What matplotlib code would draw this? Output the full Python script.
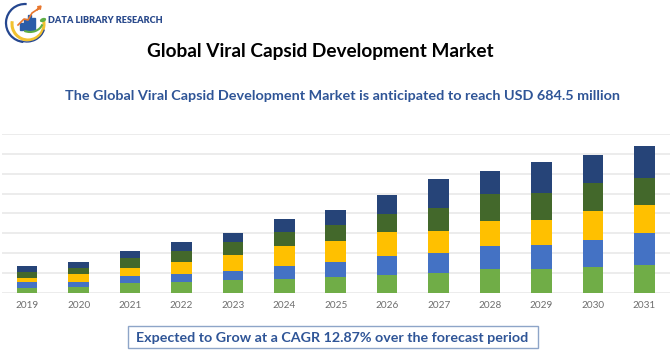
import matplotlib
matplotlib.use('Agg')
import matplotlib.pyplot as plt
from matplotlib.patches import Arc, Rectangle, Ellipse, FancyArrow

W, H = 670, 350

years = ['2019', '2020', '2021', '2022', '2023', '2024', '2025',
         '2026', '2027', '2028', '2029', '2030', '2031']
seg1 = [2.4, 2.9, 4.9, 5.5, 6.4, 6.7, 7.9, 8.7, 9.9, 11.8, 11.9, 12.8, 13.9]
seg2 = [3.0, 2.7, 3.5, 4.0, 4.4, 6.9, 7.7, 9.6, 9.9, 11.8, 12.1, 13.9, 16.0]
seg3 = [2.0, 4.0, 4.2, 6.2, 8.1, 9.9, 10.3, 12.3, 11.3, 12.3, 12.6, 14.3, 14.3]
seg4 = [3.0, 2.9, 4.9, 5.5, 6.7, 7.2, 8.1, 8.9, 11.8, 13.9, 13.9, 14.1, 13.8]
seg5 = [3.0, 3.0, 3.5, 4.2, 4.4, 6.7, 7.9, 9.6, 14.3, 11.8, 15.6, 14.1, 16.0]
series = [seg1, seg2, seg3, seg4, seg5]
colors = ['#70AD47', '#4472C4', '#FFC000', '#43682B', '#264478']

title = 'Global Viral Capsid Development Market'
subtitle = 'The Global Viral Capsid Development Market is anticipated to reach USD 684.5 million'
cagr = 'Expected to Grow at a CAGR 12.87% over the forecast period'
brand = 'DATA LIBRARY RESEARCH'

plt.rcParams['font.family'] = ['Lato', 'DejaVu Sans']

fig = plt.figure(figsize=(W / 100, H / 100), dpi=100, facecolor='white')


def px_axes(left, top, right, bottom):
    return fig.add_axes([left / W, 1 - bottom / H, (right - left) / W, (bottom - top) / H])


# main chart
ax = px_axes(1.5, 134, 670, 292.7)
bottom = [0] * len(years)
for vals, col in zip(series, colors):
    ax.bar(years, vals, width=0.4, bottom=bottom, color=col, zorder=3)
    bottom = [b + v for b, v in zip(bottom, vals)]
ax.set_xlim(-0.5, 12.5)
ax.set_ylim(0, 80)
ax.set_yticks(range(0, 81, 10))
ax.tick_params(left=False, labelleft=False, bottom=False, pad=2.5)
ax.tick_params(axis='x', labelsize=7.2, labelcolor='#6E6E6E')
ax.grid(axis='y', color='#E7E7E7', linewidth=1.1, zorder=0)
for s in ax.spines.values():
    s.set_visible(False)

# headings
fig.text(320 / W, 1 - 52 / H, title, ha='center', va='center', fontsize=13.7,
         fontweight='bold', color='black')
fig.text(342 / W, 1 - 96 / H, subtitle, ha='center', va='center', fontsize=10.35,
         fontweight='bold', color='#2F5597')
fig.text(332 / W, 1 - 338 / H, cagr, ha='center', va='center', fontsize=10.3,
         fontweight='bold', color='#2F5597')
fig.add_artist(Rectangle((127.5 / W, 1 - 348 / H), 410 / W, 22 / H, transform=fig.transFigure,
                         facecolor='none', edgecolor='#8EA5C8', linewidth=1))

# logo
logo = px_axes(0, 0, 60, 50)
logo.set_xlim(0, 60)
logo.set_ylim(50, 0)
logo.axis('off')
logo.add_patch(Arc((25, 23), 38, 38, theta1=95, theta2=275, color='#24468F', lw=1.6))
logo.add_patch(Arc((28, 24), 32, 32, theta1=-15, theta2=190, color='#F2C230', lw=2.2))
logo.add_patch(Arc((27, 25), 36, 34, theta1=15, theta2=110, color='#24468F', lw=0.9))
for bx, bh in zip([20, 24, 28, 32], [7, 11, 15, 12]):
    logo.add_patch(Rectangle((bx, 30 - bh), 3, bh, color='#2A5CA8'))
logo.plot([18, 24, 28, 32, 38], [25, 19, 20, 13, 9], color='#E8772E', lw=1.2)
logo.add_patch(FancyArrow(37, 10, 4, -4, width=0.5, head_width=4, head_length=3,
                          color='#E8772E', length_includes_head=True))
logo.add_patch(Arc((30, 21), 26, 22, theta1=15, theta2=120, color='#5FAE45', lw=1.5))
logo.add_patch(Ellipse((43, 20), 5, 2.5, angle=-20, color='#5FAE45'))
fig.text(48 / W, 1 - 20.5 / H, brand, ha='left', va='center', fontsize=6.6,
         fontweight='heavy', color='#2A4A8C')

fig.savefig('out.png', dpi=100, facecolor='white')
